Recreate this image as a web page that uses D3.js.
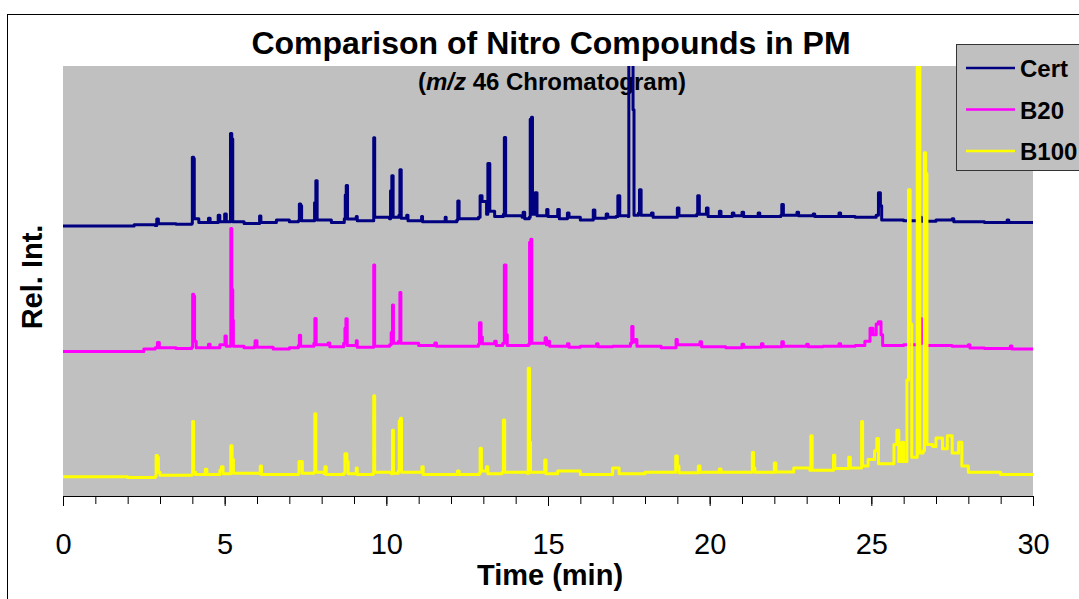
<!DOCTYPE html>
<html>
<head>
<meta charset="utf-8">
<script src="https://cdn.jsdelivr.net/npm/d3@7"></script>
<style>
  body { margin: 0; background: #fff; }
  svg { display: block; font-family: Arial, "Liberation Sans", sans-serif; }
  .axis path, .axis line { stroke: #000; }
  .axis text { font-size: 29px; fill: #000; }
</style>
</head>
<body>
<svg width="1079" height="599"></svg>
<script>
'use strict';

// series names and the traces, as [time (min), rel. intensity]
// (the traces are stacked: B100 sits near 5, B20 near 34, Cert near 63)
var seriesNames = ["Cert", "B20", "B100"];

var certTrace = [
  [0, 62.8], [1.5, 62.8], [2.2, 63.1], [2.85, 62.9], [2.9, 64.4], [2.95, 63.3], [3.5, 63.2],
  [3.98, 63.4], [4.0, 78.8], [4.04, 78.5], [4.06, 64.5], [4.2, 63.6], [4.5, 64.6], [4.55, 63.6],
  [4.8, 65.3], [4.85, 63.8], [5.0, 65.6], [5.05, 63.8], [5.16, 63.8], [5.18, 84.3], [5.22, 83.0],
  [5.25, 63.8], [5.6, 63.4], [6.05, 63.4], [6.08, 65.1], [6.12, 63.6], [6.6, 64.2], [7.0, 63.8],
  [7.28, 64.0], [7.31, 67.9], [7.35, 67.5], [7.38, 64.0], [7.75, 64.0], [7.78, 68.2], [7.82, 73.3],
  [7.86, 64.2], [8.3, 63.6], [8.7, 64.5], [8.73, 70.0], [8.76, 72.2], [8.8, 64.4], [9.07, 65.0],
  [9.1, 64.0], [9.58, 64.0], [9.61, 83.3], [9.64, 64.8], [10.1, 64.5], [10.13, 71.0], [10.17, 74.5],
  [10.21, 64.8], [10.39, 65.3], [10.42, 75.9], [10.46, 64.6], [10.63, 65.3], [10.67, 64.0],
  [11.09, 65.0], [11.12, 63.8], [11.82, 64.8], [11.85, 63.8], [12.18, 64.2], [12.21, 68.6],
  [12.25, 64.5], [12.85, 64.8], [12.9, 69.8], [12.96, 68.5], [13.1, 65.5], [13.14, 77.3],
  [13.2, 66.2], [13.35, 65.0], [13.62, 65.5], [13.65, 83.4], [13.69, 65.2], [14.2, 64.8],
  [14.23, 66.0], [14.28, 64.5], [14.42, 64.8], [14.45, 87.6], [14.49, 88.1], [14.52, 65.5],
  [14.6, 70.5], [14.66, 65.2], [14.96, 66.6], [15.0, 65.0], [15.3, 66.6], [15.35, 64.5],
  [15.6, 65.8], [15.65, 64.8], [16.0, 64.2], [16.4, 66.5], [16.45, 64.6], [16.8, 65.6],
  [16.85, 64.8], [17.1, 65.0], [17.16, 69.8], [17.22, 65.2], [17.48, 65.0], [17.5, 115],
  [17.62, 115], [17.63, 89.8], [17.66, 65.3], [17.8, 65.8], [17.83, 71.2], [17.88, 65.3],
  [18.2, 65.8], [18.25, 64.8], [18.5, 64.8], [19.0, 67.0], [19.05, 65.2], [19.6, 65.5],
  [19.63, 69.8], [19.68, 65.5], [19.9, 67.0], [19.95, 65.0], [20.3, 66.2], [20.35, 65.0],
  [20.7, 65.8], [20.75, 65.2], [21.0, 66.0], [21.05, 65.0], [21.5, 65.8], [21.55, 65.0],
  [22.2, 65.3], [22.23, 67.8], [22.28, 65.3], [22.7, 66.0], [22.75, 65.2], [23.2, 65.6],
  [23.25, 65.0], [23.5, 65.0], [24.0, 65.8], [24.05, 65.0], [24.5, 64.8], [25.15, 65.3],
  [25.22, 70.5], [25.28, 67.5], [25.32, 64.2], [26.0, 64.0], [26.5, 64.8], [26.55, 63.9],
  [27.0, 64.2], [27.5, 64.5], [27.55, 63.8], [28.5, 63.6], [29.2, 64.2], [29.25, 63.6], [30, 63.8]
];

var b20Trace = [
  [0, 33.6], [2.4, 33.6], [2.5, 34.2], [2.85, 34.5], [2.92, 35.7], [2.98, 34.5], [3.5, 34.3],
  [3.98, 34.6], [4.01, 46.9], [4.04, 46.5], [4.07, 36.0], [4.12, 34.5], [4.5, 35.3], [4.55, 34.5],
  [4.85, 35.2], [5.01, 37.2], [5.05, 34.8], [5.17, 34.8], [5.19, 62.2], [5.22, 48.0], [5.25, 40.9],
  [5.27, 34.8], [5.6, 34.5], [5.92, 34.8], [5.94, 36.1], [6.0, 34.6], [6.5, 34.2], [7.0, 34.5],
  [7.28, 35.0], [7.31, 37.4], [7.35, 34.8], [7.76, 35.5], [7.79, 41.3], [7.83, 35.2], [8.2, 35.6],
  [8.25, 34.7], [8.68, 35.5], [8.72, 39.0], [8.75, 41.2], [8.79, 35.0], [9.05, 35.0], [9.07, 36.1],
  [9.1, 34.6], [9.58, 34.6], [9.61, 53.7], [9.64, 34.8], [10.1, 35.2], [10.15, 38.0], [10.19, 44.4],
  [10.22, 35.5], [10.38, 36.0], [10.42, 47.3], [10.45, 35.5], [11.0, 35.0], [11.5, 35.6],
  [11.55, 34.8], [12.0, 34.8], [12.85, 35.3], [12.88, 40.3], [12.93, 37.0], [12.97, 35.4],
  [13.35, 36.0], [13.4, 35.0], [13.6, 35.5], [13.65, 53.7], [13.7, 37.5], [13.74, 35.0],
  [14.4, 35.3], [14.43, 59.0], [14.47, 59.7], [14.5, 35.5], [14.91, 36.8], [14.95, 35.2],
  [15.0, 36.0], [15.05, 34.8], [15.6, 35.4], [15.65, 34.6], [16.0, 34.8], [16.5, 35.4],
  [16.55, 34.7], [17.0, 34.8], [17.55, 35.5], [17.59, 39.4], [17.63, 35.8], [17.7, 36.4],
  [17.75, 34.8], [18.5, 34.5], [18.96, 36.4], [19.0, 35.2], [19.7, 35.9], [19.75, 34.7],
  [20.5, 34.5], [21.0, 35.3], [21.05, 34.6], [21.6, 35.4], [21.65, 34.7], [22.23, 35.9],
  [22.28, 34.8], [23.0, 35.3], [23.05, 34.7], [23.5, 34.8], [24.0, 35.4], [24.05, 34.8],
  [24.5, 35.0], [24.8, 36.0], [24.96, 39.0], [25.05, 37.5], [25.15, 40.0], [25.22, 40.5],
  [25.3, 37.5], [25.35, 35.0], [26.0, 35.2], [26.5, 41.3], [26.55, 35.5], [26.62, 38.0],
  [26.68, 35.0], [27.5, 34.8], [28.0, 35.2], [28.05, 34.4], [28.5, 34.3], [29.3, 34.9],
  [29.35, 34.2], [30, 34.3]
];

var b100Trace = [
  [0, 4.5], [2.0, 4.3], [2.85, 4.6], [2.88, 9.4], [2.92, 9.0], [2.95, 5.5], [3.0, 4.8], [3.98, 5.0],
  [4.01, 17.3], [4.04, 5.5], [4.1, 5.0], [4.4, 6.2], [4.45, 5.0], [4.85, 6.0], [4.9, 6.8],
  [4.95, 5.2], [5.17, 5.2], [5.19, 11.7], [5.23, 8.5], [5.27, 5.3], [6.08, 5.2], [6.1, 7.0],
  [6.14, 5.0], [7.28, 5.2], [7.3, 8.0], [7.36, 8.0], [7.4, 5.3], [7.76, 5.5], [7.79, 19.1],
  [7.82, 5.5], [8.08, 5.2], [8.1, 6.8], [8.14, 5.0], [8.68, 5.3], [8.72, 9.8], [8.78, 8.0],
  [8.82, 5.2], [9.07, 6.5], [9.1, 5.0], [9.58, 5.2], [9.61, 23.3], [9.64, 5.5], [10.16, 5.2],
  [10.19, 15.3], [10.22, 5.3], [10.37, 5.8], [10.4, 17.5], [10.44, 18.1], [10.47, 5.5],
  [11.1, 6.8], [11.14, 5.0], [12.2, 5.8], [12.25, 5.0], [12.87, 5.3], [12.9, 11.1], [12.94, 5.8],
  [13.1, 6.8], [13.14, 5.2], [13.58, 5.5], [13.62, 17.7], [13.66, 5.5], [14.36, 5.3],
  [14.39, 29.7], [14.43, 12.5], [14.46, 5.5], [14.9, 8.4], [14.94, 5.2], [15.3, 5.8], [16.0, 5.0],
  [16.8, 5.0], [17.0, 6.5], [17.15, 6.5], [17.2, 5.2], [18.0, 5.5], [18.92, 5.5], [18.95, 9.3],
  [19.0, 7.0], [19.05, 5.4], [19.65, 7.0], [19.7, 5.5], [20.3, 6.3], [20.35, 5.5], [21.28, 5.6],
  [21.32, 10.1], [21.36, 6.5], [21.4, 5.5], [22.0, 7.7], [22.05, 5.6], [22.6, 6.5], [23.1, 6.0],
  [23.13, 14.0], [23.17, 6.0], [23.83, 9.5], [23.87, 6.4], [24.3, 9.0], [24.35, 6.5],
  [24.67, 6.5], [24.7, 17.3], [24.73, 7.0], [24.9, 8.5], [25.1, 10.5], [25.17, 13.4],
  [25.22, 7.5], [25.5, 7.5], [25.7, 12.0], [25.79, 15.3], [25.85, 8.0], [25.94, 12.5],
  [26.0, 8.0], [26.1, 27.0], [26.15, 71.2], [26.2, 40.0], [26.25, 9.0], [26.38, 9.0],
  [26.42, 115], [26.47, 115], [26.5, 10.0], [26.6, 10.5], [26.64, 79.8], [26.68, 75.0],
  [26.72, 12.0], [26.9, 11.5], [27.0, 13.5], [27.2, 11.0], [27.35, 14.0], [27.5, 10.0],
  [27.7, 12.5], [27.8, 7.0], [28.0, 5.5], [29.0, 5.0], [30, 4.9]
];

var minorTicks = [0, 1, 2, 3, 4, 5, 6, 7, 8, 9, 10, 11, 12, 13, 14, 15, 16, 17, 18, 19, 20,
                  21, 22, 23, 24, 25, 26, 27, 28, 29, 30];
var majorTicks = [0, 5, 10, 15, 20, 25, 30];

var colors = ["#000080", "#FF00FF", "#FFFF00"];

var svg = d3.select("svg"),
    plot = {left: 63, right: 1033, top: 66, bottom: 496};

var x = d3.scaleLinear().domain([0, 30]).range([plot.left, plot.right]),
    y = d3.scaleLinear().domain([0, 100]).range([plot.bottom, plot.top]);

// outer chart frame (runs off the right and bottom edges)
svg.append("rect")
  .attr("x", 7.5).attr("y", 14.5)
  .attr("width", 1200).attr("height", 700)
  .attr("fill", "none").attr("stroke", "#000");

// plot area
svg.append("rect")
  .attr("x", plot.left).attr("y", plot.top)
  .attr("width", plot.right - plot.left).attr("height", plot.bottom - plot.top)
  .attr("fill", "#C0C0C0");

svg.append("clipPath").attr("id", "plotclip")
  .append("rect")
  .attr("x", plot.left).attr("y", plot.top)
  .attr("width", plot.right - plot.left).attr("height", plot.bottom - plot.top);

// subtitle sits inside the plot area, under the traces
var sub = svg.append("text")
  .attr("x", 552).attr("y", 90)
  .attr("text-anchor", "middle")
  .style("font-size", "24px").style("font-weight", "bold");
sub.append("tspan").text("(");
sub.append("tspan").style("font-style", "italic").text("m/z");
sub.append("tspan").text(" 46 Chromatogram)");

// detector data is stepped, so draw it that way
var line = d3.line()
  .curve(d3.curveStepAfter)
  .x(function(d) { return x(d[0]); })
  .y(function(d) { return y(d[1]); });

var g = svg.append("g").attr("clip-path", "url(#plotclip)");
[certTrace, b20Trace, b100Trace].forEach(function(trace, i) {
  g.append("path")
    .datum(trace)
    .attr("d", line)
    .attr("fill", "none")
    .attr("stroke", colors[i])
    .attr("stroke-width", 3)
    .attr("stroke-linejoin", "round");
});

// x axis: minor ticks every minute, labelled ticks every 5
svg.append("g")
  .attr("class", "axis")
  .attr("transform", "translate(0," + plot.bottom + ")")
  .call(d3.axisBottom(x).tickValues(minorTicks).tickSize(8).tickSizeOuter(0).tickFormat(""));

svg.append("g")
  .attr("class", "axis")
  .attr("transform", "translate(0," + plot.bottom + ")")
  .call(d3.axisBottom(x).tickValues(majorTicks).tickSize(10).tickSizeOuter(0).tickPadding(27))
  .call(function(a) { a.select(".domain").remove(); })
  .selectAll("text").style("font-family", "Arial, 'Liberation Sans', sans-serif");

// titles
svg.append("text")
  .attr("x", 551).attr("y", 54)
  .attr("text-anchor", "middle")
  .style("font-size", "32px").style("font-weight", "bold")
  .text("Comparison of Nitro Compounds in PM");

svg.append("text")
  .attr("x", 550).attr("y", 585)
  .attr("text-anchor", "middle")
  .style("font-size", "29px").style("font-weight", "bold")
  .text("Time (min)");

svg.append("text")
  .attr("transform", "translate(42,277) rotate(-90)")
  .attr("text-anchor", "middle")
  .style("font-size", "29px").style("font-weight", "bold")
  .text("Rel. Int.");

// legend
var legend = svg.append("g").attr("transform", "translate(956,44)");
legend.append("rect")
  .attr("x", 0.5).attr("y", 0.5)
  .attr("width", 200).attr("height", 126)
  .attr("fill", "#C0C0C0").attr("stroke", "#333");

var item = legend.selectAll(".item")
  .data(seriesNames)
  .enter().append("g")
    .attr("class", "item")
    .attr("transform", function(d, i) { return "translate(0," + (24 + i * 41.5) + ")"; });

item.append("line")
  .attr("x1", 10).attr("x2", 59)
  .attr("stroke", function(d, i) { return colors[i]; })
  .attr("stroke-width", 2.5);

item.append("text")
  .attr("x", 64).attr("y", 9)
  .style("font-size", "24px").style("font-weight", "bold")
  .text(function(d) { return d; });
</script>
</body>
</html>
